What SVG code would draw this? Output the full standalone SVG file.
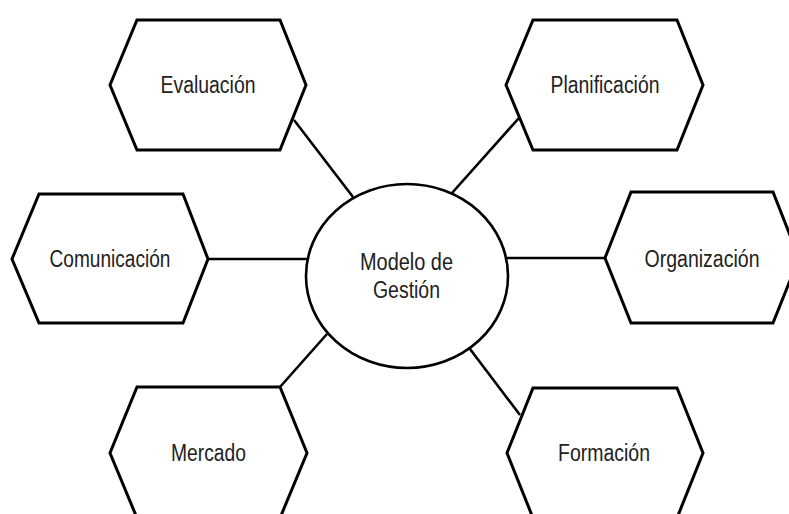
<svg xmlns="http://www.w3.org/2000/svg" width="789" height="514" viewBox="0 0 789 514">
<style>
.hex{fill:#fff;stroke:#000;stroke-width:3;stroke-linejoin:miter}
.conn line{stroke:#000;stroke-width:2.6}
.hub{fill:#fff;stroke:#000;stroke-width:2.6}
text{font-family:"Liberation Sans",Arial,sans-serif;font-size:23px;fill:#222;text-anchor:middle}
</style>
<rect width="789" height="514" fill="#fff"/>
<g id="connectors" class="conn">
<line x1="294" y1="120" x2="353" y2="197"/>
<line x1="519" y1="118" x2="452" y2="193"/>
<line x1="208" y1="259" x2="307" y2="259"/>
<line x1="506" y1="258" x2="605" y2="258"/>
<line x1="280" y1="387" x2="327" y2="334"/>
<line x1="520" y1="415" x2="470" y2="349"/>
</g>
<g id="evaluacion">
<polygon class="hex" points="137,20 280,20 306,85 280,150 137,150 110,85"/>
<text x="208" y="93" textLength="95" lengthAdjust="spacingAndGlyphs">Evaluación</text>
</g>
<g id="planificacion">
<polygon class="hex" points="533,20 677,20 703,85 677,150 533,150 506,85"/>
<text x="605" y="93" textLength="109" lengthAdjust="spacingAndGlyphs">Planificación</text>
</g>
<g id="comunicacion">
<polygon class="hex" points="39,194 183,194 208,259 183,323 39,323 12,259"/>
<text x="110" y="267" textLength="121" lengthAdjust="spacingAndGlyphs">Comunicación</text>
</g>
<g id="organizacion">
<polygon class="hex" points="631,192 773,192 799,258 773,323 631,323 605,258"/>
<text x="702" y="267" textLength="115" lengthAdjust="spacingAndGlyphs">Organización</text>
</g>
<g id="mercado">
<polygon class="hex" points="137,387 280,387 307,453 280,518 137,518 110,453"/>
<text x="208.5" y="461" textLength="75" lengthAdjust="spacingAndGlyphs">Mercado</text>
</g>
<g id="formacion">
<polygon class="hex" points="533,388 677,388 703,453 677,518 533,518 507,453"/>
<text x="604" y="461" textLength="92" lengthAdjust="spacingAndGlyphs">Formación</text>
</g>
<g id="modelo">
<ellipse class="hub" cx="407" cy="276" rx="101" ry="92"/>
<text x="406.5" y="270" textLength="93" lengthAdjust="spacingAndGlyphs">Modelo de</text>
<text x="406.5" y="298" textLength="67" lengthAdjust="spacingAndGlyphs">Gestión</text>
</g>
</svg>
